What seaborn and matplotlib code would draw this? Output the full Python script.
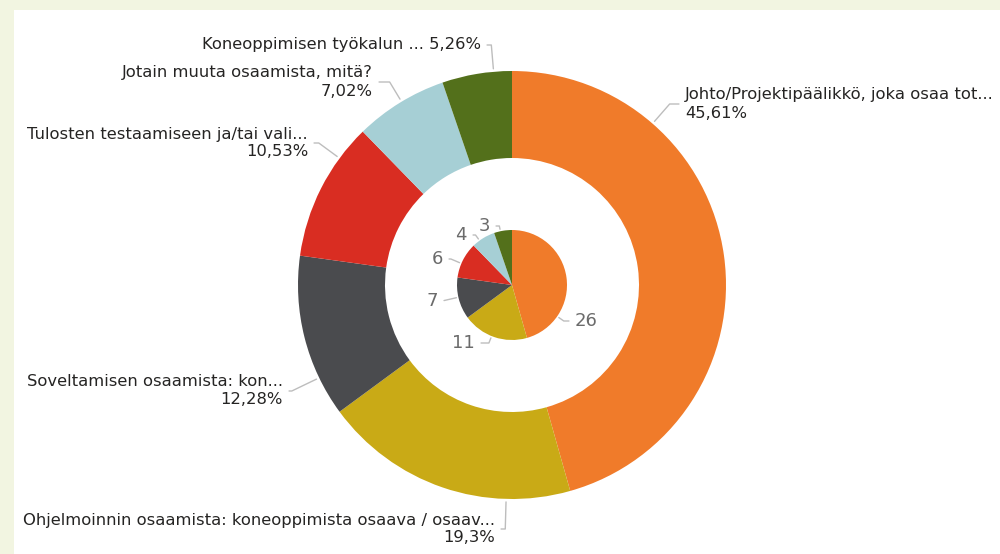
import numpy as np
import seaborn as sns
import matplotlib.pyplot as plt
from matplotlib.patches import Rectangle

sns.set_theme(style="white")
plt.rcParams['font.family'] = ['DejaVu Sans']

# data
categories = [
    'Johto/Projektipäälikkö, joka osaa tot...',
    'Ohjelmoinnin osaamista: koneoppimista osaava / osaav...',
    'Soveltamisen osaamista: kon...',
    'Tulosten testaamiseen ja/tai vali...',
    'Jotain muuta osaamista, mitä?',
    'Koneoppimisen työkalun ...',
]
counts = [26, 11, 7, 6, 4, 3]
colors = sns.color_palette(['#F07B2A', '#C9AA16', '#4A4B4E', '#D92D22', '#A6CFD5', '#53701B'])

total = sum(counts)
pct = [c / total * 100 for c in counts]


def fmt_pct(p):
    s = f"{p:.2f}".rstrip('0').rstrip('.')
    return s.replace('.', ',') + '%'


# layout (figure is drawn in pixel-like data units, y pointing up)
W, H = 1000, 554
cx, cy = 512, H - 285
r_out, r_hole, r_in = 214, 127, 55

fig = plt.figure(figsize=(10, 5.54), dpi=100)
fig.patch.set_facecolor('#F2F5E1')
fig.patches.append(Rectangle((14 / W, 0), 1, (H - 10) / H, transform=fig.transFigure,
                             facecolor='white', edgecolor='none', zorder=-10))
ax = fig.add_axes([0, 0, 1, 1])
ax.set_facecolor('none')

outer, _ = ax.pie(counts, colors=colors, radius=r_out, center=(cx, cy), startangle=90,
                  counterclock=False, wedgeprops=dict(width=r_out - r_hole, linewidth=0))
inner, _ = ax.pie(counts, colors=colors, radius=r_in, center=(cx, cy), startangle=90,
                  counterclock=False, wedgeprops=dict(linewidth=0))

ax.set_xlim(0, W)
ax.set_ylim(0, H)
ax.set_aspect('equal')
ax.axis('off')


def point_on(wedge, frac, r):
    # clockwise pie: wedge starts at theta2 and runs down to theta1
    ang = wedge.theta2 - frac * (wedge.theta2 - wedge.theta1)
    a = np.radians(ang)
    return ang, (cx + r * np.cos(a), cy + r * np.sin(a))


def label(wedge, frac, r, text, tx, ty, side, size, color):
    ang, xy = point_on(wedge, frac, r)
    ha = 'right' if side == 'l' else 'left'
    relpos = (1, 0.5) if side == 'l' else (0, 0.5)
    ax.annotate(text, xy=xy, xytext=(tx, H - ty), ha=ha, va='center', multialignment=ha,
                fontsize=size, color=color, linespacing=1.25,
                arrowprops=dict(arrowstyle='-', color='#BDBDBD', lw=1, relpos=relpos,
                                shrinkA=2, shrinkB=0,
                                connectionstyle=f'angle,angleA=0,angleB={ang:.1f},rad=0'))


# outer labels: (anchor fraction in wedge, text x, text y, side)
outer_pos = [(0.25, 685, 104, 'r'), (0.25, 495, 529, 'l'), (0.24, 283, 391, 'l'),
             (0.75, 308, 143, 'l'), (0.52, 373, 82, 'l'), (0.74, 481, 45, 'l')]
for i, (f, tx, ty, side) in enumerate(outer_pos):
    if i == len(categories) - 1:
        txt = f"{categories[i]} {fmt_pct(pct[i])}"
    else:
        txt = f"{categories[i]}\n{fmt_pct(pct[i])}"
    label(outer[i], f, r_out + 3, txt, tx, ty, side, 11.8, '#252423')

# inner labels
inner_pos = [(0.76, 575, 321, 'r'), (0.54, 475, 343, 'l'), (0.53, 438, 301, 'l'),
             (0.40, 443, 259, 'l'), (0.32, 467, 235, 'l'), (0.36, 490, 226, 'l')]
for i, (f, tx, ty, side) in enumerate(inner_pos):
    label(inner[i], f, r_in + 2, str(counts[i]), tx, ty, side, 13, '#6B6B6B')

fig.savefig('out.png', dpi=100)
